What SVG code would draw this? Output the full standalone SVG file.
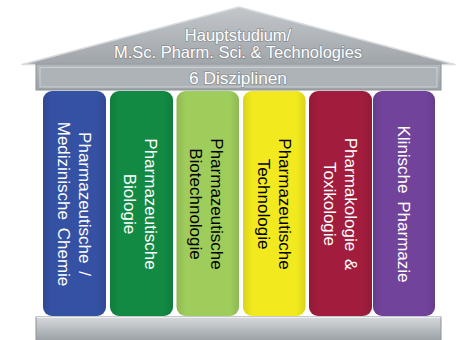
<svg xmlns="http://www.w3.org/2000/svg" width="456" height="340" viewBox="0 0 456 340">
  <defs>
    <linearGradient id="roofGrad" x1="0" y1="0" x2="0" y2="1">
      <stop offset="0" stop-color="#C3C7CB"/>
      <stop offset="1" stop-color="#A0A5AA"/>
    </linearGradient>
    <linearGradient id="slabGrad" x1="0" y1="0" x2="0" y2="1">
      <stop offset="0" stop-color="#B4B9BD"/>
      <stop offset="1" stop-color="#9DA2A7"/>
    </linearGradient>
    <linearGradient id="baseGrad" x1="0" y1="0" x2="0" y2="1">
      <stop offset="0" stop-color="#D6D9DC"/>
      <stop offset="1" stop-color="#9AA0A5"/>
    </linearGradient>
    <linearGradient id="colShade" x1="0" y1="0" x2="1" y2="0">
      <stop offset="0" stop-color="#000" stop-opacity="0.10"/>
      <stop offset="0.15" stop-color="#000" stop-opacity="0"/>
      <stop offset="0.85" stop-color="#000" stop-opacity="0"/>
      <stop offset="1" stop-color="#000" stop-opacity="0.10"/>
    </linearGradient>
  </defs>
  <style>
    .lbl { font-family: "Liberation Sans", Arial, sans-serif; font-size: 17px; text-anchor: middle; word-spacing: 3px; }
    .w { fill: #FFFFFF; }
    .k { fill: #000000; }
    .roofTxt { font-family: "Liberation Sans", Arial, sans-serif; font-size: 16.5px; fill: #FFFFFF; text-anchor: middle; stroke: #6E7479; stroke-width: 1.6px; stroke-opacity: 0.55; paint-order: stroke; }
    .col { stroke: none; }
    .shade { fill: url(#colShade); }
  </style>

  <g id="roof">
    <polygon points="22,64.5 239,7 455,64.5" fill="url(#roofGrad)" stroke="#D9DCDF" stroke-width="1.5" stroke-linejoin="round"/>
    <text class="roofTxt" x="238" y="41">Hauptstudium/</text>
    <text class="roofTxt" x="238" y="58">M.Sc. Pharm. Sci. &amp; Technologies</text>
  </g>

  <g id="entablature">
    <rect x="36" y="64" width="405" height="26" fill="url(#slabGrad)" stroke="#8C9297" stroke-width="1"/>
    <rect x="40" y="67.5" width="397" height="19.5" fill="#AEB3B8" stroke="#CDD1D4" stroke-width="1"/>
    <text class="roofTxt" x="238" y="84" style="font-size:17.3px">6 Disziplinen</text>
  </g>

  <g id="col1">
    <rect class="col" x="43" y="91" width="63" height="225" rx="9" fill="#3551A3"/>
    <rect class="shade" x="43" y="91" width="63" height="225" rx="9"/>
    <g transform="translate(74.5,204) rotate(90)">
      <text class="lbl w" x="0" y="-4.5">Pharmazeutische /</text>
      <text class="lbl w" x="0" y="16.5">Medizinische Chemie</text>
    </g>
  </g>

  <g id="col2">
    <rect class="col" x="110" y="91" width="63" height="225" rx="9" fill="#128A44"/>
    <rect class="shade" x="110" y="91" width="63" height="225" rx="9"/>
    <g transform="translate(140.5,204) rotate(90)">
      <text class="lbl w" x="0" y="-4.5">Pharmazeutische</text>
      <text class="lbl w" x="0" y="16.5">Biologie</text>
    </g>
  </g>

  <g id="col3">
    <rect class="col" x="176.5" y="91" width="62.5" height="225" rx="9" fill="#9FCD5C"/>
    <rect class="shade" x="176.5" y="91" width="62.5" height="225" rx="9"/>
    <g transform="translate(206.5,204) rotate(90)">
      <text class="lbl k" x="0" y="-4.5">Pharmazeutische</text>
      <text class="lbl k" x="0" y="16.5">Biotechnologie</text>
    </g>
  </g>

  <g id="col4">
    <rect class="col" x="243" y="91" width="62.5" height="225" rx="9" fill="#F2EA1E"/>
    <rect class="shade" x="243" y="91" width="62.5" height="225" rx="9"/>
    <g transform="translate(274.5,204) rotate(90)">
      <text class="lbl k" x="0" y="-4.5">Pharmazeutische</text>
      <text class="lbl k" x="0" y="16.5">Technologie</text>
    </g>
  </g>

  <g id="col5">
    <rect class="col" x="309" y="91" width="63" height="225" rx="9" fill="#A21C3D"/>
    <rect class="shade" x="309" y="91" width="63" height="225" rx="9"/>
    <g transform="translate(340.5,204) rotate(90)">
      <text class="lbl w" x="0" y="-4.5">Pharmakologie &amp;</text>
      <text class="lbl w" x="0" y="16.5">Toxikologie</text>
    </g>
  </g>

  <g id="col6">
    <rect class="col" x="373" y="91" width="62" height="225" rx="9" fill="#72439B"/>
    <rect class="shade" x="373" y="91" width="62" height="225" rx="9"/>
    <g transform="translate(403.5,204) rotate(90)">
      <text class="lbl w" x="0" y="6">Klinische Pharmazie</text>
    </g>
  </g>

  <g id="base">
    <rect x="36" y="317" width="405" height="24" fill="url(#baseGrad)" stroke="#8C9297" stroke-width="1"/>
    <line x1="36.5" y1="317.5" x2="440.5" y2="317.5" stroke="#ECEEF0" stroke-width="1"/>
  </g>
</svg>
